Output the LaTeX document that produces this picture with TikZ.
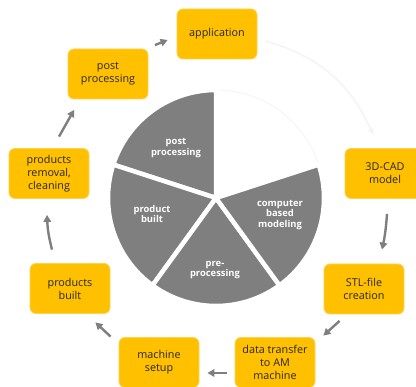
\documentclass[tikz,border=0pt]{standalone}
\usepackage{fontspec}
\setmainfont{Open Sans}
\usetikzlibrary{arrows.meta,calc}
\definecolor{boxor}{HTML}{FFC000}
\definecolor{boxline}{HTML}{FFD24D}
\definecolor{piegray}{HTML}{7F7F7F}
\definecolor{arrgray}{HTML}{7F7F7F}
\definecolor{txt}{HTML}{262626}
\definecolor{faint}{HTML}{F4F4F4}
\tikzset{
  stepbox/.style={draw=boxline, line width=0.8pt, fill=boxor, rounded corners=6pt,
    minimum width=80pt, minimum height=50pt, inner sep=1pt, align=center,
    text=txt, font=\fontsize{10.8}{13}\selectfont},
  pielabel/.style={text=white, align=center, font=\bfseries\fontsize{9.4}{10.5}\selectfont},
  arr/.style={draw=arrgray, line width=2.4pt, -{Triangle[length=7pt,width=7.5pt]}},
  faintarr/.style={draw=faint, line width=1.5pt, -{Triangle[length=6pt,width=6pt]}},
  slice/.style={fill=piegray, draw=white, line width=4.5pt, line join=round}
}
\begin{document}
\begin{tikzpicture}[x=1pt,y=1pt]
\useasboundingbox (0,0) rectangle (416,387);
\clip (0,0) rectangle (416,387);
\fill[white] (0,0) rectangle (416,387);
% pie
\coordinate (c) at (216,189);
\def\R{108}
\draw[fill=white, draw=faint, line width=0.8pt] (c) -- ++(18:\R) arc[start angle=18,end angle=90,radius=\R] -- cycle;
\filldraw[slice] (c) -- ++(90:\R) arc[start angle=90,end angle=162,radius=\R] -- cycle;
\filldraw[slice] (c) -- ++(162:\R) arc[start angle=162,end angle=234,radius=\R] -- cycle;
\filldraw[slice] (c) -- ++(234:\R) arc[start angle=234,end angle=306,radius=\R] -- cycle;
\filldraw[slice] (c) -- ++(306:\R) arc[start angle=306,end angle=378,radius=\R] -- cycle;
\node[pielabel] (lpost) at (176,239) {post\\processing};
\node[pielabel] (lbuilt) at (152,173) {product\\built};
\node[pielabel] (lcomp) at (280,172) {computer\\based\\modeling};
\node[pielabel] (lpre) at (215,117) {pre-\\processing};
% boxes
\node[stepbox] (app) at (217,353) {application};
\node[stepbox] (post) at (108,313) {post\\processing};
\node[stepbox] (removal) at (49,213.5) {products\\removal,\\cleaning};
\node[stepbox] (cad) at (385,213.5) {3D-CAD\\model};
\node[stepbox] (built) at (70,98.5) {products\\built};
\node[stepbox] (stl) at (364,98) {STL-file\\creation};
\node[stepbox] (machine) at (159,24.5) {machine\\setup};
\node[stepbox] (data) at (275,24.5) {data transfer\\to AM\\machine};
% arrows
\draw[faintarr] ([shift={(8,-7)}]app.east) to[bend left=25] ([shift={(-12,13.5)}]cad.north);
\draw[arr] ([shift={(2,-15)}]cad.south) to[bend left=4] ([shift={(18,14)}]stl.north);
\draw[arr] ([shift={(16,-6.5)}]stl.south west) -- ([shift={(8,1.5)}]data.north east);
\draw[arr] ([shift={(-8,-10.5)}]data.west) -- ([shift={(8,-10.5)}]machine.east);
\draw[arr] ([shift={(-8,0.5)}]machine.north west) -- ([shift={(-15,-8.5)}]built.south east);
\draw[arr] ([shift={(-18,13.5)}]built.north) to[bend left=6] ([shift={(-2,-16)}]removal.south);
\draw[arr] ([shift={(10,11.5)}]removal.north) -- ([shift={(6.5,-10.5)}]post.south west);
\draw[arr] ([shift={(6.5,3.5)}]post.north east) -- ([shift={(-9,-6)}]app.west);
\end{tikzpicture}
\end{document}
